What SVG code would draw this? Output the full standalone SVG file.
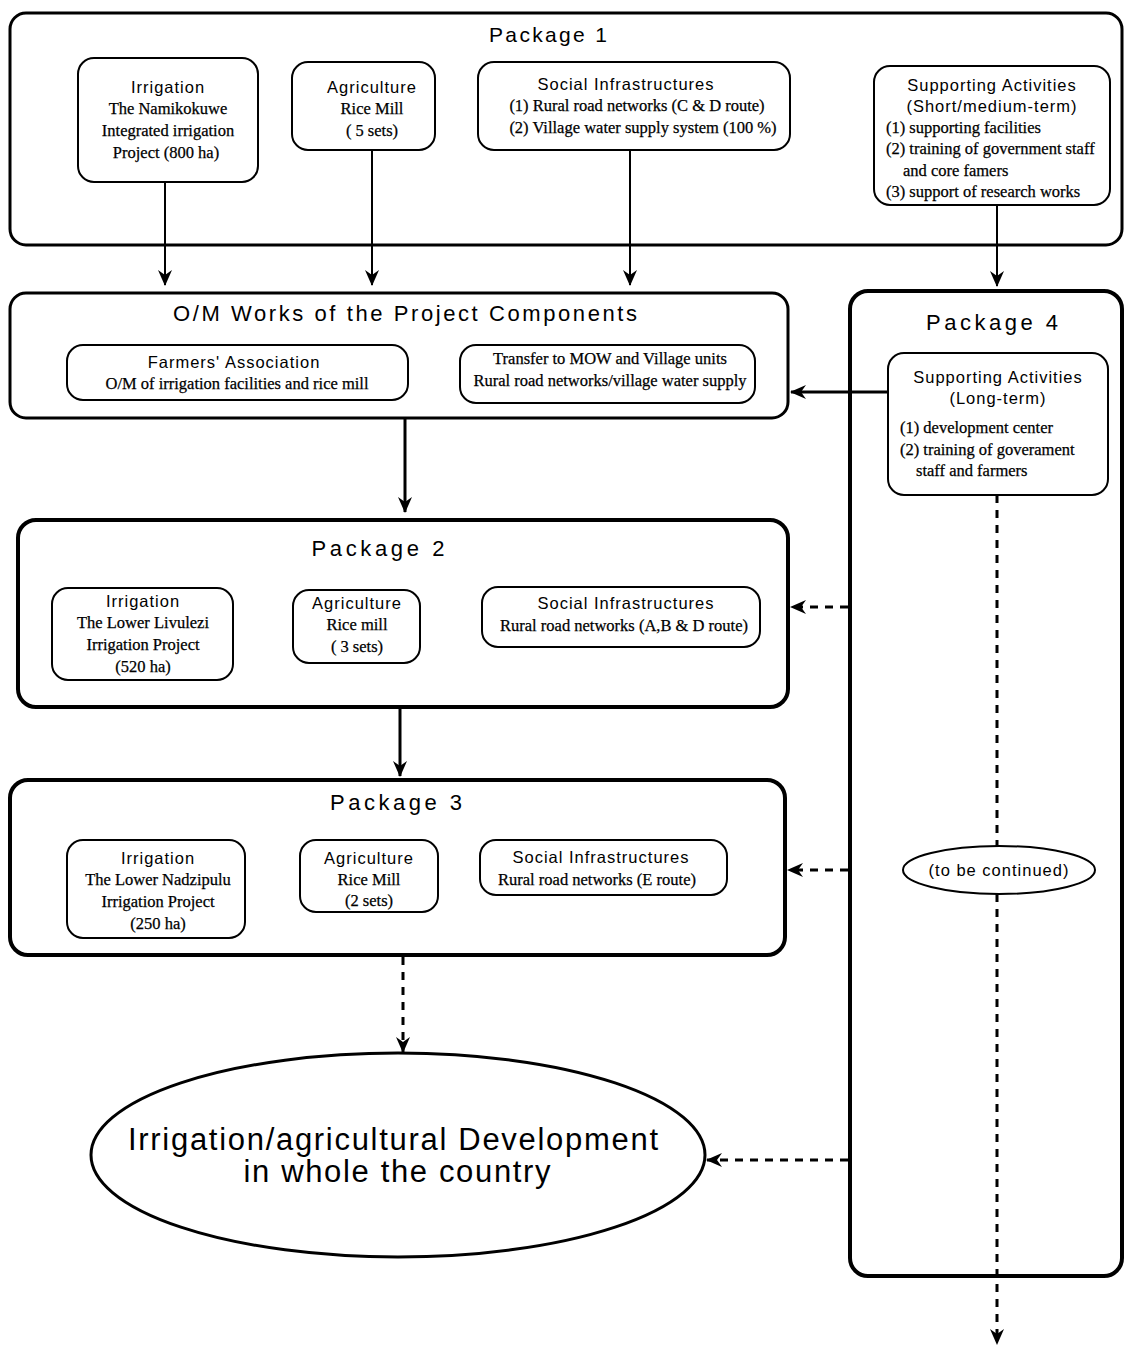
<svg xmlns="http://www.w3.org/2000/svg" width="1126" height="1349" viewBox="0 0 1126 1349">
<style>
.bg{fill:#fff}
.outer{fill:none;stroke:#000;stroke-width:3}
.thick{fill:none;stroke:#000;stroke-width:4}
.inner{fill:#fff;stroke:#000;stroke-width:2}
.h{font-family:"Liberation Sans",Arial,sans-serif;font-size:16.5px;text-anchor:middle;fill:#000;letter-spacing:1px}
.t{font-family:"Liberation Serif","Times New Roman",serif;font-size:16.5px;text-anchor:middle;fill:#000;stroke:#000;stroke-width:0.25}
.tl{font-family:"Liberation Serif","Times New Roman",serif;font-size:16.5px;fill:#000;stroke:#000;stroke-width:0.25}
.pk{font-family:"Liberation Sans",Arial,sans-serif;font-size:22px;text-anchor:middle;fill:#000}
.big{font-family:"Liberation Sans",Arial,sans-serif;font-size:31px;text-anchor:middle;fill:#000}
.line{fill:none;stroke:#000;stroke-width:2}
.line3{fill:none;stroke:#000;stroke-width:3}
.dash{fill:none;stroke:#000;stroke-width:3;stroke-dasharray:8 7}
</style>
<defs>
<marker id="ah" viewBox="0 0 16 14" refX="15" refY="7" markerWidth="16" markerHeight="14" markerUnits="userSpaceOnUse" orient="auto">
<path d="M16,7 L0,0 L5,7 L0,14 Z" fill="#000"/>
</marker>
</defs>
<rect class="bg" width="1126" height="1349"/>

<g id="package1">
<rect class="outer" x="10" y="13" width="1112" height="232" rx="16"/>
<text class="pk" x="548" y="42" textLength="118" lengthAdjust="spacing" style="font-size:21px">Package 1</text>
</g>
<g id="p1-irrigation">
<rect class="inner" x="78" y="58" width="180" height="124" rx="16"/>
<text class="h" x="168" y="93">Irrigation</text>
<text class="t" x="168" y="114">The Namikokuwe</text>
<text class="t" x="168" y="136">Integrated irrigation</text>
<text class="t" x="166" y="158">Project (800 ha)</text>
</g>
<g id="p1-agriculture">
<rect class="inner" x="292" y="62" width="143" height="88" rx="16"/>
<text class="h" x="372" y="93">Agriculture</text>
<text class="t" x="372" y="114">Rice Mill</text>
<text class="t" x="372" y="136">( 5 sets)</text>
</g>
<g id="p1-social">
<rect class="inner" x="478" y="62" width="312" height="88" rx="16"/>
<text class="h" x="626" y="90">Social Infrastructures</text>
<text class="t" x="637" y="111">(1) Rural road networks (C &amp; D route)</text>
<text class="t" x="643" y="133">(2) Village water supply system (100 %)</text>
</g>
<g id="p1-supporting">
<rect class="inner" x="874" y="66" width="236" height="139" rx="16"/>
<text class="h" x="992" y="91">Supporting Activities</text>
<text class="h" x="992" y="112">(Short/medium-term)</text>
<text class="tl" x="886" y="133">(1) supporting facilities</text>
<text class="tl" x="886" y="154">(2) training of government staff</text>
<text class="tl" x="903" y="176">and core famers</text>
<text class="tl" x="886" y="197">(3) support of research works</text>
</g>

<g id="om">
<rect class="outer" x="10" y="293" width="778" height="125" rx="16"/>
<text class="pk" x="405" y="321" textLength="464" lengthAdjust="spacing">O/M Works of the Project Components</text>
</g>
<g id="om-farmers">
<rect class="inner" x="67" y="345" width="341" height="55" rx="16"/>
<text class="h" x="234" y="368">Farmers' Association</text>
<text class="t" x="237" y="389">O/M of irrigation facilities and rice mill</text>
</g>
<g id="om-transfer">
<rect class="inner" x="460" y="345" width="295" height="58" rx="16"/>
<text class="t" x="610" y="364">Transfer to MOW and Village units</text>
<text class="t" x="610" y="386">Rural road networks/village water supply</text>
</g>

<g id="package4">
<rect class="thick" x="850" y="291" width="272" height="985" rx="18"/>
<text class="pk" x="992" y="330" textLength="132" lengthAdjust="spacing">Package 4</text>
</g>
<g id="p4-supporting">
<rect class="inner" x="888" y="353" width="220" height="142" rx="16"/>
<text class="h" x="998" y="383">Supporting Activities</text>
<text class="h" x="998" y="404">(Long-term)</text>
<text class="tl" x="900" y="433">(1) development center</text>
<text class="tl" x="900" y="455">(2) training of goverament</text>
<text class="tl" x="916" y="476">staff and farmers</text>
</g>
<g id="continued">
<ellipse class="inner" cx="999" cy="870" rx="96" ry="24"/>
<text class="h" x="999" y="876">(to be continued)</text>
</g>

<g id="package2">
<rect class="thick" x="18" y="520" width="770" height="187" rx="18"/>
<text class="pk" x="378" y="556" textLength="133" lengthAdjust="spacing">Package 2</text>
</g>
<g id="p2-irrigation">
<rect class="inner" x="52" y="588" width="181" height="92" rx="16"/>
<text class="h" x="143" y="607">Irrigation</text>
<text class="t" x="143" y="628">The Lower Livulezi</text>
<text class="t" x="143" y="650">Irrigation Project</text>
<text class="t" x="143" y="672">(520 ha)</text>
</g>
<g id="p2-agriculture">
<rect class="inner" x="293" y="590" width="127" height="73" rx="16"/>
<text class="h" x="357" y="609">Agriculture</text>
<text class="t" x="357" y="630">Rice mill</text>
<text class="t" x="357" y="652">( 3 sets)</text>
</g>
<g id="p2-social">
<rect class="inner" x="482" y="587" width="278" height="60" rx="16"/>
<text class="h" x="626" y="609">Social Infrastructures</text>
<text class="t" x="624" y="631">Rural road networks (A,B &amp; D route)</text>
</g>

<g id="package3">
<rect class="thick" x="10" y="780" width="775" height="175" rx="18"/>
<text class="pk" x="396" y="810" textLength="132" lengthAdjust="spacing">Package 3</text>
</g>
<g id="p3-irrigation">
<rect class="inner" x="67" y="840" width="178" height="98" rx="16"/>
<text class="h" x="158" y="864">Irrigation</text>
<text class="t" x="158" y="885">The Lower Nadzipulu</text>
<text class="t" x="158" y="907">Irrigation Project</text>
<text class="t" x="158" y="929">(250 ha)</text>
</g>
<g id="p3-agriculture">
<rect class="inner" x="300" y="840" width="138" height="72" rx="16"/>
<text class="h" x="369" y="864">Agriculture</text>
<text class="t" x="369" y="885">Rice Mill</text>
<text class="t" x="369" y="906">(2 sets)</text>
</g>
<g id="p3-social">
<rect class="inner" x="480" y="840" width="247" height="55" rx="16"/>
<text class="h" x="601" y="863">Social Infrastructures</text>
<text class="t" x="597" y="885">Rural road networks (E route)</text>
</g>

<g id="goal">
<ellipse fill="#fff" stroke="#000" stroke-width="3" cx="398" cy="1155" rx="307" ry="102"/>
<text class="big" x="393" y="1150" textLength="530" lengthAdjust="spacing">Irrigation/agricultural Development</text>
<text class="big" x="397" y="1182" textLength="307" lengthAdjust="spacing">in whole the country</text>
</g>

<g id="connectors">
<path class="line" d="M165,182 V285" marker-end="url(#ah)"/>
<path class="line" d="M372,150 V285" marker-end="url(#ah)"/>
<path class="line" d="M630,150 V285" marker-end="url(#ah)"/>
<path class="line" d="M997,205 V286" marker-end="url(#ah)"/>
<path class="line3" d="M888,392 H791" marker-end="url(#ah)"/>
<path class="line3" d="M405,418 V512" marker-end="url(#ah)"/>
<path class="line3" d="M400,707 V776" marker-end="url(#ah)"/>
<path class="dash" d="M997,495 V846"/>
<path class="dash" d="M997,894 V1344" marker-end="url(#ah)"/>
<path class="dash" d="M848,607 H791" marker-end="url(#ah)"/>
<path class="dash" d="M848,870 H788" marker-end="url(#ah)"/>
<path class="dash" d="M403,957 V1052" marker-end="url(#ah)"/>
<path class="dash" d="M848,1160 H707" marker-end="url(#ah)"/>
</g>
</svg>
